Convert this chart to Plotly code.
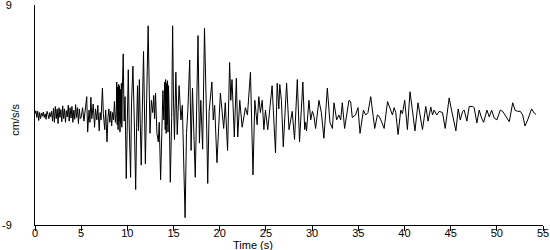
import plotly.graph_objects as go

# Time (s) of each sample vertex read from the record
time_s = [
    0.00, 0.10, 0.20, 0.30, 0.40, 0.50, 0.60, 0.70, 0.80, 0.90,
    1.00, 1.10, 1.20, 1.30, 1.40, 1.50, 1.60, 1.70, 1.80, 1.90,
    2.00, 2.10, 2.20, 2.30, 2.40, 2.50, 2.60, 2.70, 2.80, 2.90,
    3.00, 3.10, 3.20, 3.30, 3.40, 3.50, 3.60, 3.70, 3.80, 3.90,
    4.00, 4.10, 4.20, 4.30, 4.40, 4.50, 4.60, 4.70, 4.80, 4.90,
    5.00, 5.15, 5.30, 5.45, 5.60, 5.70, 5.85, 5.95, 6.05, 6.15,
    6.30, 6.45, 6.55, 6.70, 6.80, 6.95, 7.05, 7.15, 7.30, 7.40,
    7.55, 7.65, 7.80, 7.90, 8.00, 8.10, 8.20, 8.30, 8.40, 8.50,
    8.60, 8.70, 8.80, 8.85, 8.90, 8.95, 9.00, 9.05, 9.10, 9.15,
    9.20, 9.25, 9.30, 9.35, 9.40, 9.45, 9.55, 9.65, 9.75, 9.88,
    10.00, 10.10, 10.20, 10.35, 10.45, 10.60, 10.75, 10.90, 11.00, 11.10,
    11.20, 11.30, 11.40, 11.50, 11.75, 11.95, 12.25, 12.45, 12.60, 12.75,
    12.85, 12.95, 13.05, 13.20, 13.35, 13.45, 13.60, 13.75, 13.85, 13.95,
    14.05, 14.10, 14.15, 14.20, 14.25, 14.30, 14.35, 14.40, 14.45, 14.55,
    14.65, 14.80, 14.90, 15.00, 15.10, 15.25, 15.40, 15.60, 15.80, 15.95,
    16.25, 16.40, 16.55, 16.75, 16.90, 17.05, 17.20, 17.35, 17.50, 17.65,
    17.80, 17.95, 18.15, 18.35, 18.55, 18.70, 18.85, 18.98, 19.15, 19.30,
    19.45, 19.70, 19.90, 20.07, 20.43, 20.60, 20.85, 21.07, 21.20, 21.33,
    21.58, 21.80, 21.95, 22.17, 22.43, 22.60, 22.78, 23.00, 23.33, 23.60,
    23.80, 24.05, 24.23, 24.40, 24.60, 24.78, 24.95, 25.20, 25.40, 25.67,
    26.04, 26.22, 26.40, 26.50, 26.68, 26.88, 27.24, 27.50, 27.85, 28.10,
    28.40, 28.64, 29.00, 29.20, 29.30, 29.40, 29.66, 29.85, 30.03, 30.20,
    30.38, 30.74, 31.00, 31.28, 31.65, 31.93, 32.20, 32.37, 32.66, 32.90,
    33.10, 33.27, 33.52, 33.81, 33.99, 34.17, 34.35, 34.70, 34.97, 35.19,
    35.56, 35.80, 36.05, 36.35, 36.53, 36.78, 37.07, 37.25, 37.50, 37.80,
    38.17, 38.45, 38.70, 38.88, 39.06, 39.31, 39.60, 39.78, 40.03, 40.32,
    40.60, 40.86, 41.14, 41.47, 41.69, 41.95, 42.31, 42.56, 42.85, 43.04,
    43.21, 43.50, 43.76, 44.12, 44.41, 44.84, 45.10, 45.32, 45.57, 45.82,
    46.04, 46.30, 46.47, 46.76, 47.01, 47.38, 47.55, 47.84, 48.09, 48.35,
    48.57, 48.93, 49.18, 49.44, 49.72, 50.01, 50.37, 50.63, 50.99, 51.35,
    51.72, 51.97, 52.26, 52.54, 52.80, 53.05, 53.34, 53.77, 54.05, 54.24,
]

# Acceleration (cm/s/s) at each vertex
accel = [
    0.10, 0.35, -0.20, 0.30, -0.45, 0.20, -0.30, 0.15, -0.10, 0.25,
    -0.20, 0.10, -0.35, 0.30, 0.05, -0.30, 0.20, -0.15, 0.30, -0.50,
    0.55, -0.60, 0.70, -0.30, 0.50, -0.70, 0.60, -0.20, 0.45, -0.55,
    0.75, -0.30, 0.50, -0.60, 0.35, -0.15, 0.80, -0.50, 0.60, -0.25,
    0.70, -0.60, 0.40, -0.35, 0.85, -0.20, 0.60, -0.70, 0.50, -0.30,
    -0.20, 0.60, -0.50, 0.30, 1.50, -1.40, 0.40, -0.60, 1.45, -0.30,
    0.90, -1.00, 0.50, -0.40, 0.80, -1.30, 0.20, -0.40, 2.20, 0.10,
    -1.20, 0.40, -2.20, -0.20, 0.50, -0.60, 0.30, -0.90, 0.20, -0.40,
    1.10, -0.60, 0.30, 2.70, -0.80, 2.30, -1.20, 2.50, -0.50, 2.40,
    -1.40, 2.10, -0.70, 2.60, -1.00, 1.80, 5.00, -0.50, 1.50, -5.20,
    0.50, 3.70, -0.80, -5.10, 1.00, 4.00, -0.50, -6.10, -1.00, 2.40,
    -1.30, 2.90, -0.70, -4.10, 5.20, -4.00, 7.30, -1.50, 1.20, 0.20,
    1.60, -0.30, 1.80, -1.50, -2.20, -0.60, -5.30, -0.80, 2.00, -0.40,
    2.70, -1.20, 2.90, -1.50, 2.60, -0.80, 2.80, -1.40, 2.40, -0.50,
    -5.50, -0.20, 7.30, 1.00, -2.00, 3.50, -1.60, 2.40, -0.40, 0.80,
    -8.40, -1.50, 0.40, 4.50, -2.90, 2.20, -2.00, -5.10, 0.50, 6.50,
    -2.30, 1.20, -2.80, 7.10, 0.50, -5.60, 0.30, 1.60, 2.70, -0.40,
    0.80, -3.90, -0.50, 1.80, -1.10, 1.00, -2.90, 4.30, 1.20, 2.90,
    -1.80, 3.00, -1.80, 1.20, -1.00, -0.20, 0.60, 0.00, 3.50, -4.90,
    1.20, -0.80, 1.50, 0.20, 1.20, -1.20, 0.40, -1.20, 0.40, 2.40,
    -3.10, 2.60, 0.50, 2.50, 1.20, -2.60, 2.60, -1.20, 0.30, -2.00,
    2.90, -2.20, 2.70, -1.20, -0.60, -1.30, 1.20, -0.40, 0.30, -0.10,
    -1.10, 1.20, 0.20, -1.90, 2.20, -0.60, -1.10, 1.00, -0.40, 0.00,
    -0.40, 1.00, -1.10, 0.40, 1.20, 1.10, -0.20, 0.00, 0.60, -1.50,
    0.40, 0.00, 0.20, 1.50, 0.40, -1.10, 0.00, -0.10, -0.50, -1.10,
    1.10, 0.60, 0.00, 0.60, 0.20, -1.60, 0.40, 0.10, 1.20, -1.20,
    1.90, 0.40, -1.30, 1.00, -0.20, -1.20, 0.70, -0.50, 0.65, 0.00,
    0.40, 0.00, 0.30, 0.20, -1.10, 1.40, 0.40, -0.50, -1.30, 0.50,
    -0.40, 0.30, 0.40, -0.50, 0.70, 0.70, 0.60, -0.65, 0.40, -0.25,
    -0.60, 0.40, -0.15, 0.40, -0.25, -0.40, 0.40, 0.30, -0.15, -0.55,
    1.00, 0.40, 0.30, 0.30, 0.00, -0.90, -0.40, 0.50, 0.15, 0.05,
]

x_ticks = [0, 5, 10, 15, 20, 25, 30, 35, 40, 45, 50, 55]
y_ticks = [-9, 9]
y_tick_text = ["-9", "9"]

FONT = "Liberation Sans"
FS = 11

fig = go.Figure()
fig.add_trace(go.Scatter(
    x=time_s, y=accel, mode="lines",
    line=dict(color="black", width=1),
    hoverinfo="skip", showlegend=False,
))

fig.update_layout(
    width=550, height=250,
    margin=dict(l=35, r=7, t=5, b=25, autoexpand=False),
    paper_bgcolor="white", plot_bgcolor="white",
    font=dict(family=FONT, size=FS, color="black"),
    xaxis=dict(
        range=[0, 55], tickvals=x_ticks, ticks="outside", ticklen=5,
        tickcolor="black", tickwidth=1, showline=True, linecolor="black",
        linewidth=1, showgrid=False, zeroline=False, automargin=False,
        ticklabelstandoff=-7, ticklabeloverflow="allow",
        tickfont=dict(family=FONT, size=FS),
    ),
    yaxis=dict(
        range=[-9, 9], tickvals=y_ticks, ticktext=y_tick_text, ticks="",
        ticklabelstandoff=20, ticklabeloverflow="allow",
        showline=True, linecolor="black", linewidth=1,
        showgrid=False, zeroline=False, automargin=False,
        tickfont=dict(family=FONT, size=FS),
    ),
    shapes=[dict(
        type="line", xref="x", yref="y", xsizemode="pixel", xanchor=0,
        x0=-5, x1=0, y0=-9, y1=-9, line=dict(color="black", width=1),
    )],
    annotations=[
        dict(text="Time (s)", xref="paper", yref="paper", x=0.429, y=-0.092,
             xanchor="center", yanchor="middle", showarrow=False,
             font=dict(family=FONT, size=FS)),
        dict(text="cm/s/s", xref="paper", yref="paper", x=-0.04, y=0.477,
             xanchor="center", yanchor="middle", textangle=-90,
             showarrow=False, font=dict(family=FONT, size=FS)),
    ],
)

fig.write_html("out.html")
